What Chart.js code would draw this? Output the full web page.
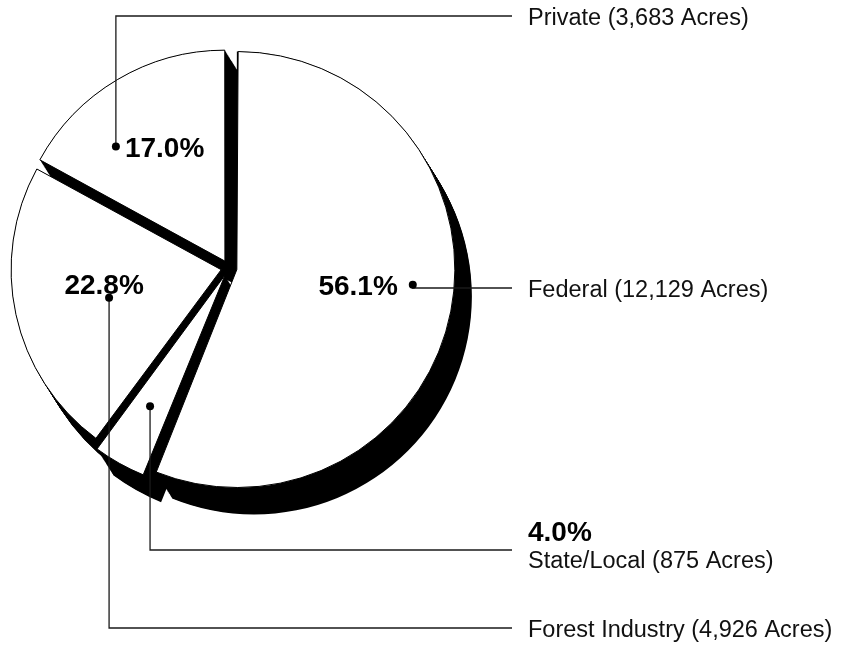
<!DOCTYPE html>
<html>
<head>
<meta charset="utf-8">
<title>Forest land ownership</title>
<script src="https://cdn.jsdelivr.net/npm/chart.js@4.4.1/dist/chart.umd.min.js"></script>
<style>
  html, body { margin: 0; padding: 0; background: #fff; }
  #wrap { position: relative; width: 849px; height: 647px; }
</style>
</head>
<body>
<div id="wrap"><canvas id="ownershipChart"></canvas></div>
<script>
// Data
const categories = ['Federal', 'State/Local', 'Forest Industry', 'Private'];
const acres = [12129, 875, 4926, 3683];

const total = acres.reduce((sum, v) => sum + v, 0);
const percents = acres.map(v => (v / total * 100).toFixed(1) + '%');
const labelTexts = categories.map((c, i) => `${c} (${acres[i].toLocaleString('en-US')} Acres)`);

// callout dot inside each slice (fraction of sweep, fraction of radius) + label row on the right
const callouts = [
    { along: 0.47, depth: 0.81, rowY: 288, pct: 'left' },
    { along: 0.53, depth: 0.70, rowY: 550, pct: 'column' },
    { along: 0.48, depth: 0.55, rowY: 628, pct: 'above' },
    { along: 0.29, depth: 0.75, rowY: 16, pct: 'right' }
];

const SHADOW = { dx: 17, dy: 27 };
const LINE_END_X = 512;
const LABEL_X = 528;
const REG_FONT = '23.5px "Liberation Sans", Arial, sans-serif';
const BOLD_FONT = 'bold 28px "Liberation Sans", Arial, sans-serif';

// same geometry ArcElement.draw uses (offset / 4 translation)
function sliceGeom(arc) {
    const off = (arc.options.offset || 0) / 4;
    const half = (arc.startAngle + arc.endAngle) / 2;
    const sweep = arc.endAngle - arc.startAngle;
    const fix = 1 - Math.sin(Math.min(Math.PI, sweep));
    return {
        cx: arc.x + Math.cos(half) * off,
        cy: arc.y + Math.sin(half) * off,
        r: arc.outerRadius + off * fix,
        start: arc.startAngle,
        end: arc.endAngle
    };
}

// black extruded "thickness" under the slices, shows through the gaps
const extrudedShadow = {
    id: 'extrudedShadow',
    beforeDatasetsDraw(chart) {
        const ctx = chart.ctx;
        ctx.save();
        ctx.fillStyle = '#000';
        chart.getDatasetMeta(0).data.forEach(arc => {
            const g = sliceGeom(arc);
            const steps = 30;
            for (let s = 0; s <= steps; s++) {
                const t = s / steps;
                const x = g.cx + SHADOW.dx * t;
                const y = g.cy + SHADOW.dy * t;
                ctx.beginPath();
                ctx.moveTo(x, y);
                ctx.arc(x, y, g.r, g.start, g.end);
                ctx.closePath();
                ctx.fill();
            }
        });
        ctx.restore();
    }
};

const leaderLabels = {
    id: 'leaderLabels',
    afterDatasetsDraw(chart) {
        const ctx = chart.ctx;
        ctx.save();
        chart.getDatasetMeta(0).data.forEach((arc, i) => {
            const g = sliceGeom(arc);
            const c = callouts[i];
            const a = g.start + (g.end - g.start) * c.along;
            const px = g.cx + Math.cos(a) * g.r * c.depth;
            const py = g.cy + Math.sin(a) * g.r * c.depth;

            // leader line
            ctx.strokeStyle = '#1a1a1a';
            ctx.lineWidth = 1.3;
            ctx.beginPath();
            ctx.moveTo(px, py);
            ctx.lineTo(px, c.rowY);
            ctx.lineTo(LINE_END_X, c.rowY);
            ctx.stroke();

            // dot
            ctx.fillStyle = '#000';
            ctx.beginPath();
            ctx.arc(px, py, 4, 0, Math.PI * 2);
            ctx.fill();

            // percent
            ctx.font = BOLD_FONT;
            ctx.textBaseline = 'alphabetic';
            if (c.pct === 'left') {
                ctx.textAlign = 'right';
                ctx.fillText(percents[i], px - 15, py + 10);
            } else if (c.pct === 'right') {
                ctx.textAlign = 'left';
                ctx.fillText(percents[i], px + 9, py + 11);
            } else if (c.pct === 'above') {
                ctx.textAlign = 'center';
                ctx.fillText(percents[i], px - 5, py - 4);
            } else {
                ctx.textAlign = 'left';
                ctx.fillText(percents[i], LABEL_X, c.rowY - 9);
            }

            // category label
            ctx.font = REG_FONT;
            ctx.textAlign = 'left';
            ctx.fillStyle = '#111';
            const base = c.pct === 'column' ? c.rowY + 18 : c.rowY + 8.5;
            ctx.fillText(labelTexts[i], LABEL_X, base);
        });
        ctx.restore();
    }
};

new Chart(document.getElementById('ownershipChart'), {
    type: 'pie',
    data: {
        labels: categories,
        datasets: [{
            data: acres,
            backgroundColor: '#fff',
            borderColor: '#000',
            borderWidth: 1,
            hoverBorderWidth: 1,
            offset: 32,
            hoverOffset: 0
        }]
    },
    options: {
        responsive: true,
        maintainAspectRatio: false,
        animation: false,
        events: [],
        layout: { padding: { left: 2.5, top: 41.5, right: 393.5, bottom: 152.5 } },
        plugins: {
            legend: { display: false },
            tooltip: { enabled: false }
        }
    },
    plugins: [extrudedShadow, leaderLabels]
});
</script>
</body>
</html>
